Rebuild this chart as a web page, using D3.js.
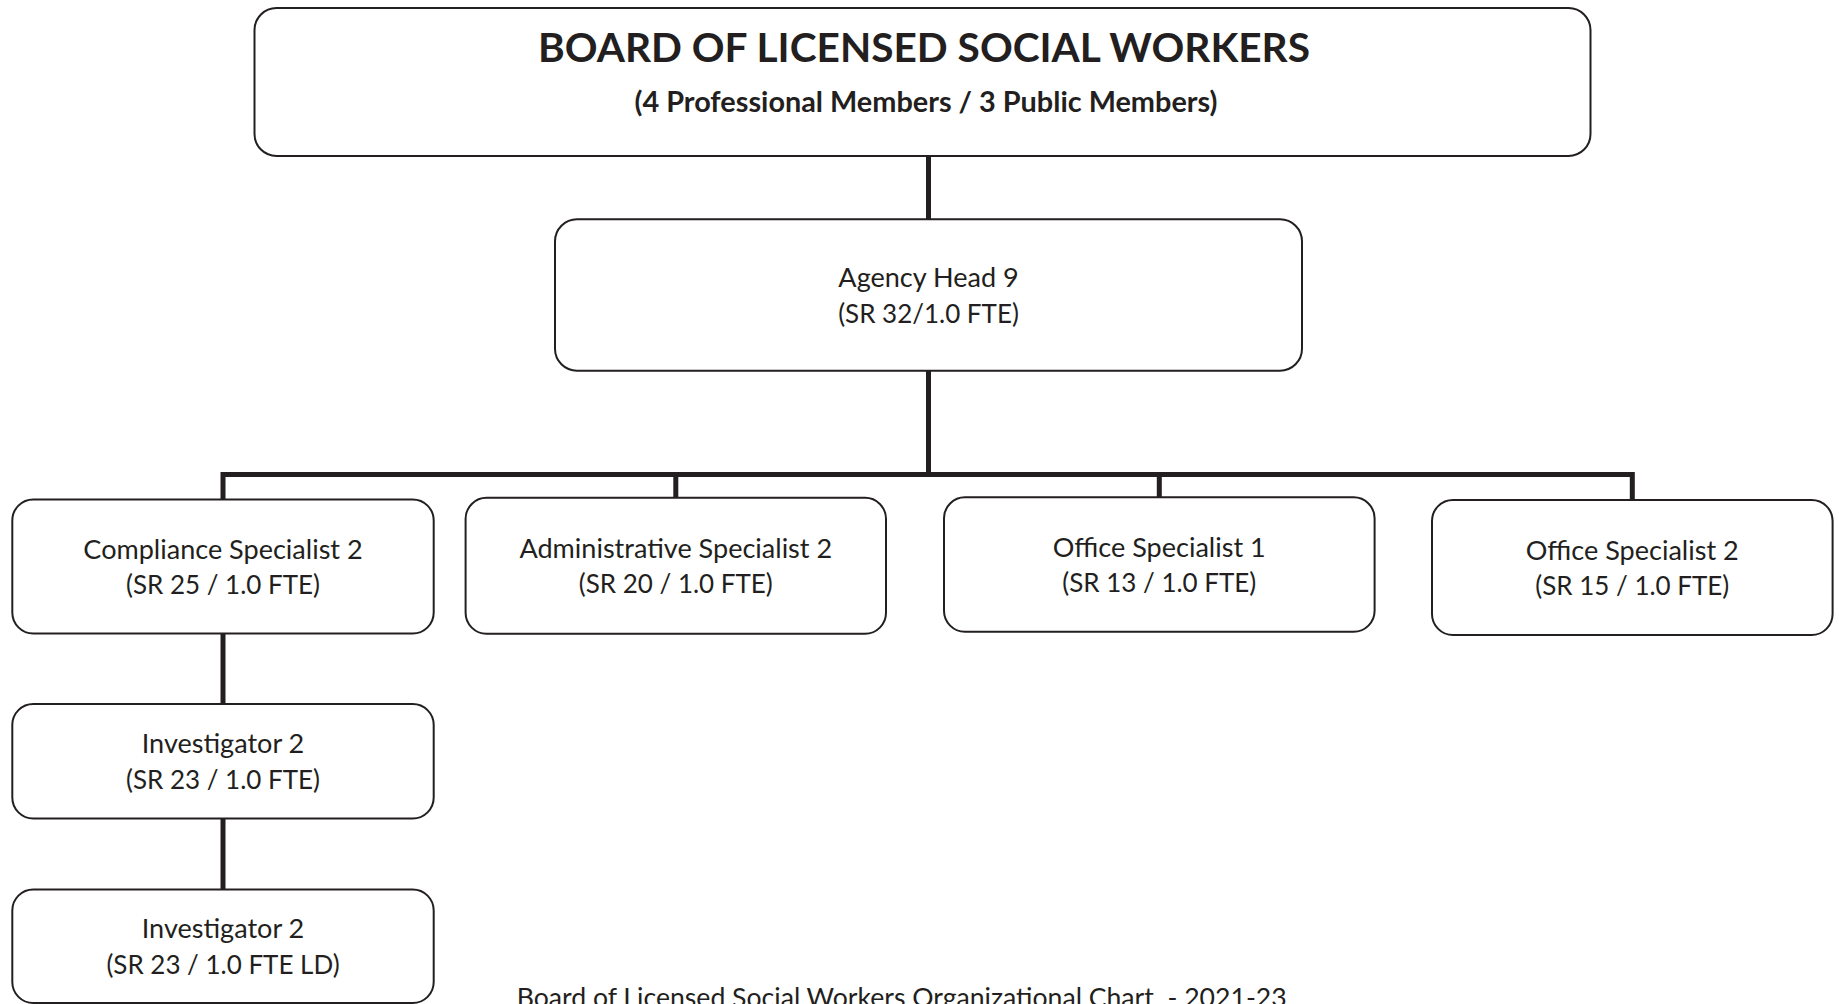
<!DOCTYPE html>
<html>
<head>
<meta charset="utf-8">
<script src="https://cdn.jsdelivr.net/npm/d3@7"></script>
<style>
  html, body { margin: 0; padding: 0; background: #ffffff; overflow: hidden; }
  svg { display: block; }
  text { white-space: pre; }
</style>
</head>
<body>
<svg id="chart" width="1839" height="1004"></svg>
<script>
// ---------------- DATA ----------------
const ids      = ["board", "head", "comp", "admin", "off1", "off2", "inv1", "inv2"];
const parents  = ["", "board", "head", "head", "head", "head", "comp", "inv1"];
const titles   = ["BOARD OF LICENSED SOCIAL WORKERS", "Agency Head 9", "Compliance Specialist 2",
                  "Administrative Specialist 2", "Office Specialist 1", "Office Specialist 2",
                  "Investigator 2", "Investigator 2"];
const details  = ["(4 Professional Members / 3 Public Members)", "(SR 32/1.0 FTE)", "(SR 25 / 1.0 FTE)",
                  "(SR 20 / 1.0 FTE)", "(SR 13 / 1.0 FTE)", "(SR 15 / 1.0 FTE)",
                  "(SR 23 / 1.0 FTE)", "(SR 23 / 1.0 FTE LD)"];
const footnote = "Board of Licensed Social Workers Organizational Chart  - 2021-23";

// ---------------- LAYOUT (geometry, kept apart from data) ----------------
const layout = {
  board: { x: 254.5, y: 8,     w: 1336,  h: 148,   r: 22 },
  head:  { x: 555,   y: 219.3, w: 747,   h: 151.4, r: 22 },
  comp:  { x: 12.3,  y: 499.5, w: 421.4, h: 134,   r: 21 },
  admin: { x: 465.6, y: 497.8, w: 420.4, h: 136,   r: 21 },
  off1:  { x: 944,   y: 497.3, w: 430.6, h: 134.5, r: 21 },
  off2:  { x: 1432,  y: 500,   w: 400.6, h: 135,   r: 21 },
  inv1:  { x: 12.3,  y: 704,   w: 421.4, h: 114.5, r: 21 },
  inv2:  { x: 12.3,  y: 889.5, w: 421.4, h: 113.5, r: 21 }
};
const busY = 474.5;
const ink = "#231f20";

const svg = d3.select("#chart");

const table = ids.map((id, i) => ({ id, parent: parents[i] || null, title: titles[i], detail: details[i] }));
const root = d3.stratify().id(d => d.id).parentId(d => d.parent)(table);

// ---------------- LINKS ----------------
const linkGen = l => {
  const p = layout[l.source.id], c = layout[l.target.id];
  const px = p.x + p.w / 2, cx = c.x + c.w / 2;
  const y0 = p.y + p.h, y1 = c.y;
  if (l.source.children.length > 1) {
    return `M${px},${y0}V${busY}H${cx}V${y1}`;
  }
  return `M${cx},${y0}V${y1}`;
};
svg.append("g")
  .selectAll("path")
  .data(root.links())
  .join("path")
  .attr("d", linkGen)
  .attr("fill", "none")
  .attr("stroke", ink)
  .attr("stroke-width", 5)
  .attr("stroke-linecap", "square")
  .attr("stroke-linejoin", "miter");

// ---------------- BOXES ----------------
const nodes = svg.append("g")
  .selectAll("g")
  .data(root.descendants())
  .join("g");

nodes.append("rect")
  .attr("x", d => layout[d.id].x)
  .attr("y", d => layout[d.id].y)
  .attr("width", d => layout[d.id].w)
  .attr("height", d => layout[d.id].h)
  .attr("rx", d => layout[d.id].r)
  .attr("ry", d => layout[d.id].r)
  .attr("fill", "#ffffff")
  .attr("stroke", ink)
  .attr("stroke-width", 2);

// ---------------- TEXT ----------------
const fontReg = "Lato, 'Open Sans', sans-serif";

function natural(str, size, weight) {
  const t = svg.append("text").attr("font-family", fontReg).attr("font-size", size)
    .attr("font-weight", weight).text(str);
  const w = t.node().getComputedTextLength();
  t.remove();
  return w;
}
// width ratios calibrated so the Lato glyphs occupy Calibri-like widths
const regSize = 26.5;
const regRatio = 279.3 / natural(titles[2], regSize, 400);
const detRatio = 194 / natural(details[2], regSize, 400);
const footRatio = 770 / natural(footnote, regSize, 400);
const titleSize = 40;
const titleRatio = 772 / natural(titles[0], titleSize, 700);
const subSize = 28;
const subRatio = 583 / natural(details[0], subSize, 700);

function addLine(str, x, y, size, weight, ratio, anchor) {
  const w = natural(str, size, weight) * ratio;
  svg.append("text")
    .attr("x", x).attr("y", y)
    .attr("text-anchor", anchor || "middle")
    .attr("font-family", fontReg)
    .attr("font-size", size)
    .attr("font-weight", weight)
    .attr("fill", ink)
    .attr("textLength", w)
    .attr("lengthAdjust", "spacingAndGlyphs")
    .text(str);
}

root.descendants().forEach(d => {
  const b = layout[d.id];
  const cx = b.x + b.w / 2;
  if (d.depth === 0) {
    addLine(d.data.title, cx + 1.5, 61.7, titleSize, 700, titleRatio);
    addLine(d.data.detail, cx + 3.5, 112, subSize, 700, subRatio);
  } else {
    const cy = b.y + b.h / 2;
    addLine(d.data.title, cx, cy - 7.8, regSize, 400, regRatio);
    addLine(d.data.detail, cx, cy + 27.6, regSize, 400, detRatio);
  }
});

addLine(footnote, 516.7, 1007, regSize, 400, footRatio, "start");
</script>
</body>
</html>
